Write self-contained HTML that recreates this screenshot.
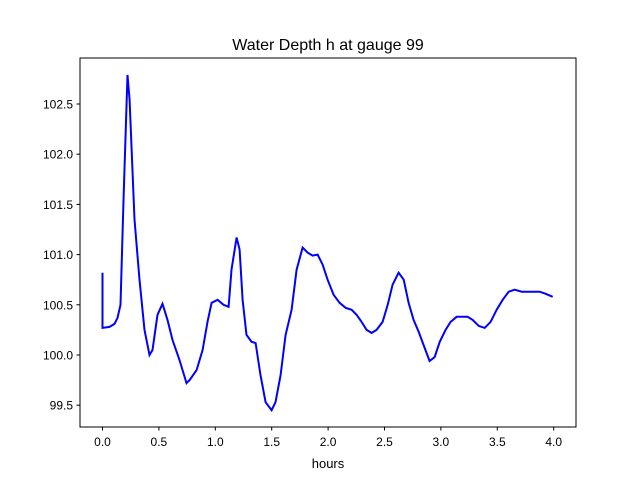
<!DOCTYPE html>
<html><head><meta charset="utf-8"><style>
body{margin:0;background:#fff;font-family:"Liberation Sans",sans-serif}
</style></head><body>
<svg id="chart" width="640" height="480" xmlns="http://www.w3.org/2000/svg">
<rect width="640" height="480" fill="#fff"/>
<text x="328" y="50" font-size="16" text-anchor="middle">Water Depth h at gauge 99</text>
<g id="xt"></g>
<g id="yt"></g>
<path id="line" fill="none" stroke="#0000ff" stroke-width="2"/>
<rect x="80" y="58" width="496" height="369" fill="none" stroke="#000" stroke-width="1"/>
<text x="328" y="468" font-size="13" text-anchor="middle">hours</text>
</svg>
<script>
const hours=[0,0,0.062,0.106,0.133,0.160,0.186,0.222,0.240,0.284,0.328,0.372,0.417,0.443,0.488,0.532,0.576,0.621,0.683,0.745,0.772,0.834,0.887,0.931,0.967,1.020,1.073,1.118,1.144,1.189,1.215,1.242,1.277,1.322,1.357,1.401,1.446,1.499,1.534,1.579,1.623,1.676,1.721,1.774,1.818,1.863,1.907,1.951,1.996,2.049,2.102,2.155,2.208,2.253,2.297,2.341,2.386,2.430,2.483,2.528,2.572,2.625,2.670,2.714,2.758,2.803,2.856,2.900,2.945,2.989,3.042,3.086,3.140,3.193,3.237,3.282,3.335,3.388,3.441,3.494,3.548,3.601,3.654,3.716,3.769,3.823,3.876,3.929,3.991];
const depth=[100.82,100.27,100.28,100.31,100.37,100.50,101.54,102.79,102.54,101.35,100.75,100.25,100.00,100.05,100.40,100.51,100.35,100.15,99.95,99.72,99.75,99.85,100.05,100.33,100.52,100.55,100.50,100.48,100.85,101.17,101.05,100.55,100.20,100.13,100.12,99.80,99.53,99.45,99.53,99.80,100.20,100.45,100.85,101.07,101.02,100.99,101.00,100.90,100.75,100.60,100.52,100.47,100.45,100.40,100.33,100.25,100.22,100.25,100.33,100.50,100.70,100.82,100.75,100.52,100.35,100.23,100.07,99.94,99.98,100.13,100.25,100.33,100.38,100.38,100.38,100.35,100.29,100.27,100.33,100.45,100.55,100.63,100.65,100.63,100.63,100.63,100.63,100.61,100.58];
const xTicks=[0,0.5,1,1.5,2,2.5,3,3.5,4];
const yTicks=[99.5,100,100.5,101,101.5,102,102.5];
const X=h=>102.5+h*112.8, Y=v=>355-(v-100)*100.4;
const ns="http://www.w3.org/2000/svg";
const xt=document.getElementById('xt'), yt=document.getElementById('yt');
xTicks.forEach(t=>{
 const l=document.createElementNS(ns,'line');
 
 
 l.setAttribute('x1',X(t));l.setAttribute('x2',X(t));l.setAttribute('y1',427);l.setAttribute('y2',430.5);l.setAttribute('stroke','#000');
 xt.appendChild(l);
 const s=document.createElementNS(ns,'text');
 
 
 s.setAttribute('x',X(t));s.setAttribute('y',446);s.setAttribute('font-size','12');s.setAttribute('text-anchor','middle');
 s.textContent=t.toFixed(1);xt.appendChild(s);
});
yTicks.forEach(t=>{
 const l=document.createElementNS(ns,'line');
 
 
 l.setAttribute('x1',76.5);l.setAttribute('x2',80);l.setAttribute('y1',Y(t));l.setAttribute('y2',Y(t));l.setAttribute('stroke','#000');
 yt.appendChild(l);
 const s=document.createElementNS(ns,'text');
 
 
 s.setAttribute('x',73);s.setAttribute('y',Y(t)+4.5);s.setAttribute('font-size','12');s.setAttribute('text-anchor','end');
 s.textContent=t.toFixed(1);yt.appendChild(s);
});
document.getElementById('line').setAttribute('d',hours.map((h,i)=>(i?'L':'M')+X(h).toFixed(1)+','+Y(depth[i]).toFixed(1)).join(''));
</script>
</body></html>
